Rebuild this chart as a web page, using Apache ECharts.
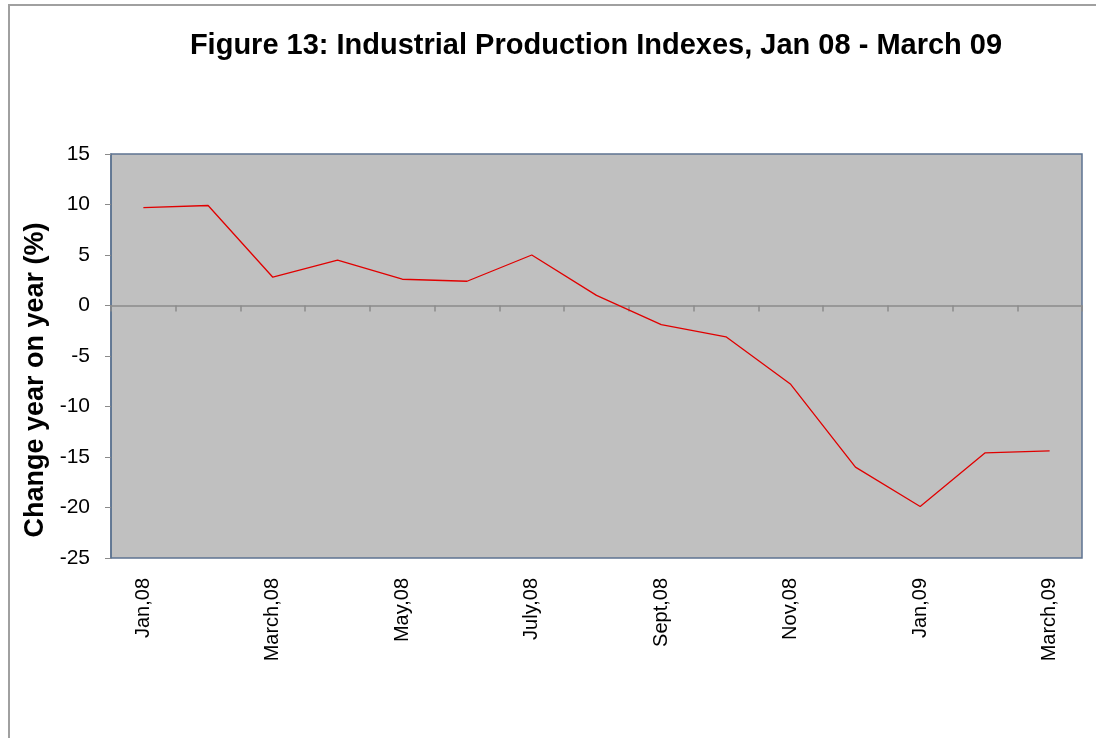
<!DOCTYPE html>
<html>
<head>
<meta charset="utf-8">
<script src="https://cdn.jsdelivr.net/npm/echarts@6/dist/echarts.min.js"></script>
<style>
  html, body { margin: 0; padding: 0; background: #fff; }
  #main { width: 1096px; height: 738px; }
</style>
</head>
<body>
<div id="main"></div>
<script>
// months shown on the category axis
var months = ['Jan,08', 'Feb,08', 'March,08', 'April,08', 'May,08', 'June,08', 'July,08', 'Aug,08',
              'Sept,08', 'Oct,08', 'Nov,08', 'Dec,08', 'Jan,09', 'Feb,09', 'March,09'];
// year-on-year change (%)
var changeYoY = [9.7, 9.9, 2.8, 4.5, 2.6, 2.4, 5.0, 1.0, -1.9, -3.1, -7.8, -16.0, -19.9, -14.6, -14.4];

var chart = echarts.init(document.getElementById('main'));

var option = {
  animation: false,
  backgroundColor: '#fff',
  title: {
    text: 'Figure 13: Industrial Production Indexes, Jan 08 - March 09',
    left: 591,
    textAlign: 'center',
    top: 26,
    textStyle: {
      fontFamily: 'Liberation Sans, Arial, sans-serif',
      fontWeight: 'bold',
      fontSize: 29,
      color: '#000'
    }
  },
  grid: {
    left: 111,
    top: 154,
    right: 14,
    bottom: 180,
    show: true,
    backgroundColor: '#c0c0c0',
    borderColor: '#5d7391',
    borderWidth: 1.5
  },
  xAxis: [{
    type: 'category',
    data: months,
    boundaryGap: true,
    axisLine: { onZero: true, lineStyle: { color: '#8a8a8a', width: 1.5 } },
    axisTick: { show: true, interval: 0, length: 6, lineStyle: { color: '#8a8a8a', width: 1.5 } },
    axisLabel: { show: false },
    splitLine: { show: false }
  }, {
    type: 'category',
    data: months,
    position: 'bottom',
    boundaryGap: true,
    axisLine: { show: false },
    axisTick: { show: false },
    axisLabel: {
      interval: 1,
      rotate: 90,
      margin: 20,
      fontFamily: 'Liberation Sans, Arial, sans-serif',
      fontSize: 20,
      color: '#000'
    }
  }],
  yAxis: {
    type: 'value',
    min: -25,
    max: 15,
    interval: 5,
    axisLine: { show: true, lineStyle: { color: '#5d7391', width: 1.5 } },
    axisTick: { show: true, length: 6, lineStyle: { color: '#8a8a8a' } },
    axisLabel: {
      margin: 21,
      fontFamily: 'Liberation Sans, Arial, sans-serif',
      fontSize: 21,
      color: '#000'
    },
    splitLine: { show: false }
  },
  graphic: [{
    type: 'rect',
    shape: { x: 9, y: 5, width: 1100, height: 740 },
    style: { fill: 'none', stroke: '#a0a0a0', lineWidth: 2 },
    silent: true
  }, {
    type: 'text',
    x: 36,
    y: 380,
    rotation: Math.PI / 2,
    style: {
      text: 'Change year on year (%)',
      fontFamily: 'Liberation Sans, Arial, sans-serif',
      fontWeight: 'bold',
      fontSize: 27,
      fill: '#000',
      align: 'center',
      verticalAlign: 'middle'
    }
  }],
  series: [{
    type: 'line',
    data: changeYoY,
    xAxisIndex: 0,
    showSymbol: false,
    symbol: 'none',
    lineStyle: { color: '#e00000', width: 1.3 }
  }]
};

chart.setOption(option);
</script>
</body>
</html>
